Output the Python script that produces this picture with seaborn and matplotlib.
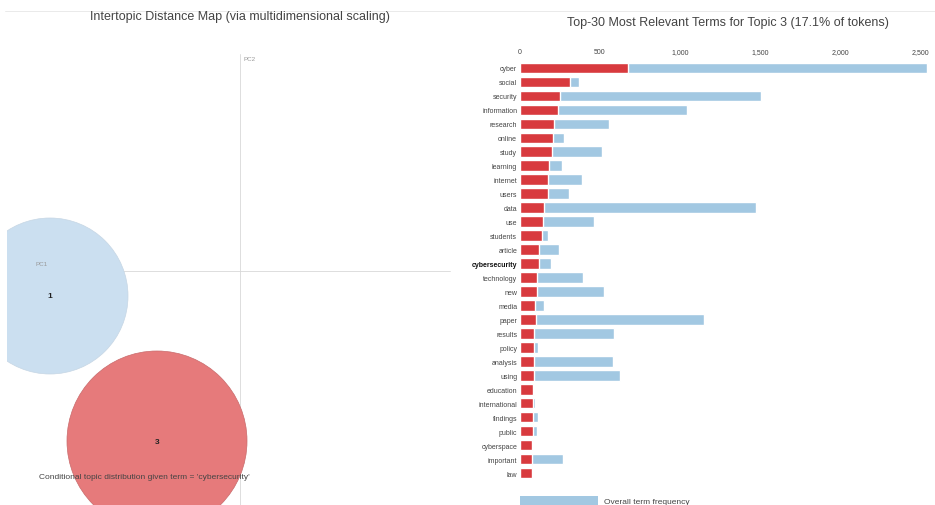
import matplotlib
matplotlib.use('Agg')
import matplotlib.pyplot as plt
import seaborn as sns
import pandas as pd
from matplotlib.patches import Circle, Rectangle
from matplotlib.lines import Line2D

# top-30 terms for topic 3
terms = ['cyber', 'social', 'security', 'information', 'research', 'online', 'study',
         'learning', 'internet', 'users', 'data', 'use', 'students', 'article',
         'cybersecurity', 'technology', 'new', 'media', 'paper', 'results', 'policy',
         'analysis', 'using', 'education', 'international', 'findings', 'public',
         'cyberspace', 'important', 'law']
overall_freq = [2544, 369, 1506, 1044, 556, 275, 512, 262, 388, 306, 1475, 462, 175, 244,
                194, 394, 525, 150, 1150, 588, 112, 581, 625, 85, 94, 112, 106, 80, 269, 75]
topic_freq = [675, 312, 250, 238, 212, 206, 200, 181, 175, 175, 150, 144, 137, 119,
              119, 106, 106, 94, 100, 88, 88, 88, 88, 81, 81, 81, 81, 78, 75, 75]
x_ticks = [0, 500, 1000, 1500, 2000, 2500]
x_tick_labels = ['0', '500', '1,000', '1,500', '2,000', '2,500']

# intertopic map (PC coordinates, radius in same units)
topic_ids = ['1', '3']
topic_pc1 = [-0.190, -0.083]
topic_pc2 = [-0.025, -0.170]
topic_radius = [0.078, 0.090]
topic_colors = ['#cbdff0', '#e67a7b']
topic_edges = ['#c6d6e4', '#c86a6b']

BLUE = '#a2c8e2'
RED = '#d83a3e'
TXT = '#444444'

sns.set_theme(style='white')
plt.rcParams['font.family'] = ['Liberation Sans', 'DejaVu Sans']

W, H = 935, 506
fig = plt.figure(figsize=(W / 100, H / 100), dpi=100)

# ---- left: intertopic distance map
axl = fig.add_axes([7 / W, 0, (480 - 7) / W, 1])
axl.set_xlim(-0.233, 0.240)
axl.set_ylim(-0.234, 0.272)
axl.axis('off')
axl.plot([-0.205, 0.210], [0, 0], color='#d8d8d8', lw=0.6)
axl.plot([0, 0], [-0.234, 0.217], color='#d8d8d8', lw=0.6)
axl.text(-0.205, 0.006, 'PC1', fontsize=4.5, color='#999999')
axl.text(0.004, 0.211, 'PC2', fontsize=4.5, color='#999999')
for tid, px, py, r, c, ec in zip(topic_ids, topic_pc1, topic_pc2, topic_radius,
                                 topic_colors, topic_edges):
    axl.add_patch(Circle((px, py), r, facecolor=c, edgecolor=ec, lw=0.5, zorder=2))
    axl.text(px, py, tid, ha='center', va='center', fontsize=6, fontweight='bold',
             color='#222222', zorder=3)
axl.text(-0.201, -0.206, "Conditional topic distribution given term = 'cybersecurity'",
         fontsize=6, color=TXT, va='center', zorder=4)
fig.text(240 / W, 1 - 17 / H, 'Intertopic Distance Map (via multidimensional scaling)',
         ha='center', va='center', fontsize=9, color=TXT)

# ---- right: bar chart
df = pd.DataFrame({'term': terms, 'overall': overall_freq, 'topic': topic_freq})
axr = fig.add_axes([520 / W, 1 - 481 / H, (W - 520) / W, (481 - 62) / H])
sns.barplot(data=df, x='overall', y='term', color=BLUE, saturation=1, width=0.76, ax=axr)
sns.barplot(data=df, x='topic', y='term', color=RED, saturation=1, width=0.76, ax=axr)
axr.set_xlim(0, (W - 520) / 0.16)
axr.set_ylim(len(terms) - 0.5, -0.5)
axr.set_xlabel('')
axr.set_ylabel('')
axr.xaxis.tick_top()
axr.set_xticks(x_ticks)
axr.set_xticklabels(x_tick_labels, fontsize=5, color=TXT)
axr.tick_params(axis='both', length=0, pad=2)
axr.tick_params(axis='x', pad=4)
for lab in axr.get_yticklabels():
    lab.set_fontsize(5)
    lab.set_color(TXT)
    if lab.get_text() == 'cybersecurity':
        lab.set_fontweight('bold')
        lab.set_color('#111111')
sns.despine(ax=axr, left=True, bottom=True, top=True, right=True)
fig.text(728 / W, 1 - 23 / H, 'Top-30 Most Relevant Terms for Topic 3 (17.1% of tokens)',
         ha='center', va='center', fontsize=9, color=TXT)

# legend strip at bottom
fig.patches.append(Rectangle((520 / W, 0), 78 / W, 9 / H, transform=fig.transFigure,
                             facecolor=BLUE, edgecolor='none'))
fig.text(604 / W, 1 - 503 / H, 'Overall term frequency', fontsize=6, color=TXT,
         va='center')

# faint top border
fig.lines.append(Line2D([5 / W, 1], [1 - 12 / H, 1 - 12 / H], transform=fig.transFigure,
                        color='#e6e6e6', lw=0.6))

fig.savefig('out.png', dpi=100)
plt.close(fig)
